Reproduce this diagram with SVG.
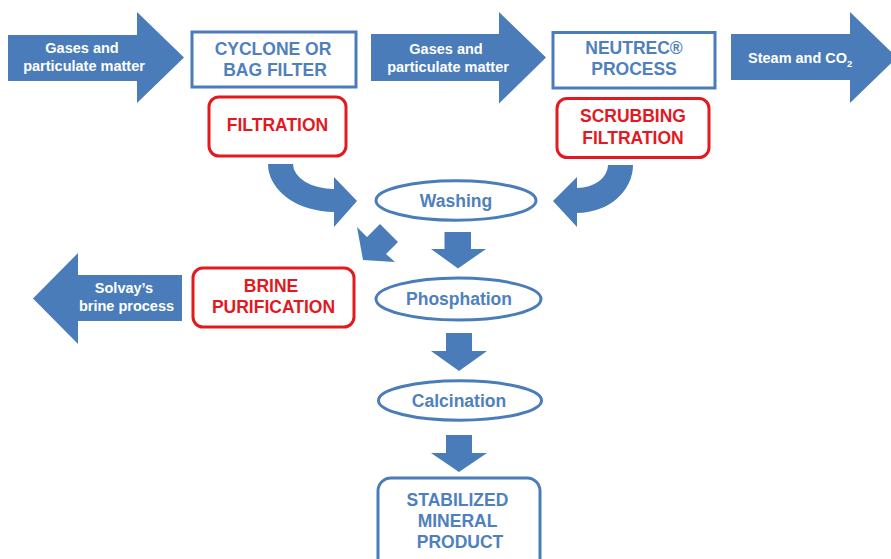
<svg xmlns="http://www.w3.org/2000/svg" width="891" height="559" viewBox="0 0 891 559">
<style>
.arr{fill:#4a7cba;stroke:none}
.box{fill:#fff;stroke:#4a7cba;stroke-width:3}
.rbox{fill:#fff;stroke:#e3191f;stroke-width:3}
.t{font-family:"Liberation Sans",Arial,sans-serif;font-weight:bold;text-anchor:middle}
.bt{font-size:17.5px;fill:#4f80be}
.rt{font-size:17.5px;fill:#e3191f}
.wt{font-size:14.5px;fill:#fff}
</style>
<rect width="891" height="559" fill="#fff"/>
<g id="connectors">
  <path class="arr" d="M8,35 L137,35 L137,12 L184,57.5 L137,103 L137,81 L8,81 Z"/>
  <path class="arr" d="M371,34 L499,34 L499,12 L546,57.5 L499,103.5 L499,81 L371,81 Z"/>
  <path class="arr" d="M731,34 L850,34 L850,12 L897,57.5 L850,103 L850,80 L731,80 Z"/>
  <path class="arr" d="M182,275 L78,275 L78,253 L33,298.5 L78,344 L78,321 L182,321 Z"/>
  <path class="arr" d="M268,164 L293,164 A41,25 0 0 0 334,189 L334,177 L357,201 L334,227 L334,212 A66,48 0 0 1 268,164 Z"/>
  <path class="arr" d="M633,165 L608,165 A31,23 0 0 1 577,188 L577,177 L553,201 L577,227 L577,213 A56,48 0 0 0 633,165 Z"/>
  <path class="arr" d="M380,224 L398,242 L386,254 L395,262 L363,260 L357,227 L367,237 Z"/>
  <path class="arr" d="M444.5,232 L471,232 L471,249 L486,249 L458,268.5 L431,249 L444.5,249 Z"/>
  <path class="arr" d="M446,333 L472,333 L472,351 L487,351 L459,371 L431,351 L446,351 Z"/>
  <path class="arr" d="M446,435 L472,435 L472,453 L487,453 L459,472 L431,453 L446,453 Z"/>
</g>
<g id="label-gases1">
  <text class="t wt" x="82" y="53">Gases and</text>
  <text class="t wt" x="84" y="71">particulate matter</text>
</g>
<g id="label-gases2">
  <text class="t wt" x="446" y="54">Gases and</text>
  <text class="t wt" x="448" y="72">particulate matter</text>
</g>
<g id="label-steam">
  <text class="t wt" x="748" y="63" style="text-anchor:start">Steam and CO<tspan font-size="9.5px" dy="4">2</tspan></text>
</g>
<g id="label-solvay">
  <text class="t wt" x="124" y="292.5">Solvay’s</text>
  <text class="t wt" x="126.5" y="311">brine process</text>
</g>
<g id="cyclone">
  <rect class="box" x="192" y="32" width="164" height="55"/>
  <text class="t bt" x="273" y="55">CYCLONE OR</text>
  <text class="t bt" x="275" y="76">BAG FILTER</text>
</g>
<g id="filtration">
  <rect class="rbox" x="209" y="97" width="137" height="59" rx="10"/>
  <text class="t rt" x="277.5" y="130.5">FILTRATION</text>
</g>
<g id="neutrec">
  <rect class="box" x="553" y="32.5" width="162" height="55.5"/>
  <text class="t bt" x="634" y="54">NEUTREC®</text>
  <text class="t bt" x="634" y="75">PROCESS</text>
</g>
<g id="scrubbing">
  <rect class="rbox" x="557" y="98.5" width="152" height="59" rx="10"/>
  <text class="t rt" x="633" y="121.5">SCRUBBING</text>
  <text class="t rt" x="633" y="143.5">FILTRATION</text>
</g>
<g id="washing">
  <ellipse class="box" cx="456" cy="200.5" rx="80" ry="19.7"/>
  <text class="t bt" x="456" y="207">Washing</text>
</g>
<g id="brine">
  <rect class="rbox" x="193" y="268" width="161" height="59" rx="10"/>
  <text class="t rt" x="271" y="291.5">BRINE</text>
  <text class="t rt" x="273.5" y="313">PURIFICATION</text>
</g>
<g id="phosphation">
  <ellipse class="box" cx="458.5" cy="299" rx="82.5" ry="21"/>
  <text class="t bt" x="459" y="305">Phosphation</text>
</g>
<g id="calcination">
  <ellipse class="box" cx="460" cy="400.5" rx="81.5" ry="19.7"/>
  <text class="t bt" x="459" y="407">Calcination</text>
</g>
<g id="product">
  <rect class="box" x="378" y="478" width="162" height="100" rx="13"/>
  <text class="t bt" x="457.5" y="505.5">STABILIZED</text>
  <text class="t bt" x="457.5" y="526.5">MINERAL</text>
  <text class="t bt" x="460" y="548">PRODUCT</text>
</g>
</svg>
